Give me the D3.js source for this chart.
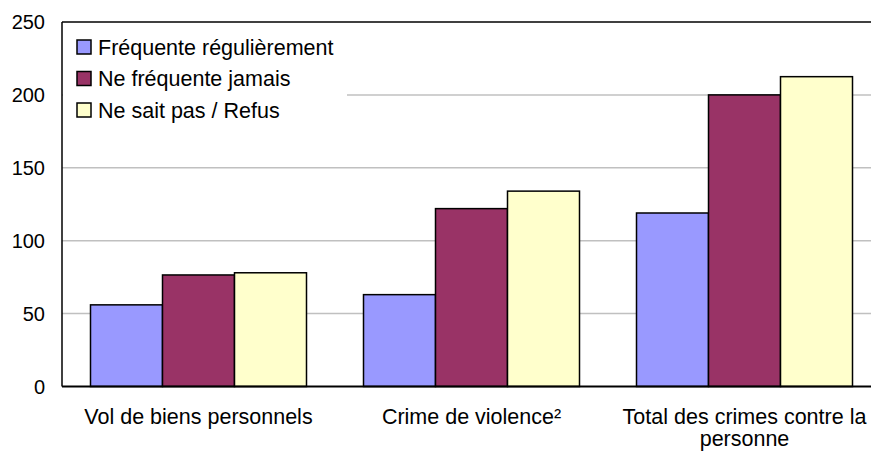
<!DOCTYPE html>
<html>
<head>
<meta charset="utf-8">
<script src="https://cdn.jsdelivr.net/npm/d3@7"></script>
<style>
  body { margin: 0; background: #fff; }
  svg { display: block; font-family: "Liberation Sans", Arial, Helvetica, sans-serif; }
</style>
</head>
<body>
<div id="chart"></div>
<script>
// data
const categories = ["Vol de biens personnels", "Crime de violence²", "Total des crimes contre la personne"];
const seriesNames = ["Fréquente régulièrement", "Ne fréquente jamais", "Ne sait pas / Refus"];
const frequente = [56, 63, 119];
const jamais = [76.5, 122, 200];
const neSaitPas = [78, 134, 212.5];
const yTicks = [0, 50, 100, 150, 200, 250];
const seriesValues = [frequente, jamais, neSaitPas];
const colors = ["#9999FF", "#993366", "#FFFFCC"];

// layout
const width = 871, height = 453;
const mLeft = 62, mRight = 881, mTop = 22, mBottom = 386.5;

const svg = d3.select("#chart").append("svg")
  .attr("width", width)
  .attr("height", height);

const x = d3.scaleBand()
  .domain(categories)
  .range([mLeft, mRight])
  .paddingInner(57 / 273)
  .paddingOuter(28.5 / 273);

const xs = d3.scaleBand()
  .domain(d3.range(seriesNames.length))
  .range([0, x.bandwidth()]);

const y = d3.scaleLinear().domain([0, 250]).range([mBottom, mTop]);

// gridlines
svg.append("g")
  .selectAll("line")
  .data(yTicks.filter(t => t > 0 && t < 250))
  .join("line")
  .attr("x1", mLeft).attr("x2", width)
  .attr("y1", d => y(d)).attr("y2", d => y(d))
  .attr("stroke", "#c0c0c0")
  .attr("stroke-width", 1.5);

// y tick labels
svg.append("g")
  .selectAll("text")
  .data(yTicks)
  .join("text")
  .attr("x", 45)
  .attr("y", d => y(d))
  .attr("dy", "0.36em")
  .attr("text-anchor", "end")
  .attr("font-size", 20)
  .attr("fill", "#000")
  .text(d => d);

// legend background (hides gridlines)
svg.append("rect")
  .attr("x", mLeft + 1).attr("y", mTop + 1)
  .attr("width", 284).attr("height", 104)
  .attr("fill", "#fff");

// bars
const groups = svg.append("g")
  .selectAll("g")
  .data(categories)
  .join("g")
  .attr("transform", d => `translate(${x(d)},0)`);

groups.selectAll("rect")
  .data((d, i) => seriesValues.map((s, k) => ({ k, v: s[i] })))
  .join("rect")
  .attr("x", d => xs(d.k))
  .attr("y", d => y(d.v))
  .attr("width", xs.bandwidth())
  .attr("height", d => y(0) - y(d.v))
  .attr("fill", d => colors[d.k])
  .attr("stroke", "#000")
  .attr("stroke-width", 1.5);

// axes frame
svg.append("line")
  .attr("x1", mLeft).attr("x2", mLeft)
  .attr("y1", mTop).attr("y2", mBottom)
  .attr("stroke", "#000").attr("stroke-width", 1.5);
svg.append("line")
  .attr("x1", mLeft).attr("x2", width)
  .attr("y1", mTop).attr("y2", mTop)
  .attr("stroke", "#000").attr("stroke-width", 1.5);
svg.append("line")
  .attr("x1", mLeft).attr("x2", width)
  .attr("y1", mBottom).attr("y2", mBottom)
  .attr("stroke", "#000").attr("stroke-width", 2);

// category labels (wrapped)
const catLines = [["Vol de biens personnels"], ["Crime de violence²"], ["Total des crimes contre la", "personne"]];
svg.append("g")
  .selectAll("text")
  .data(categories)
  .join("text")
  .attr("x", d => x(d) + x.bandwidth() / 2)
  .attr("y", 424)
  .attr("text-anchor", "middle")
  .attr("font-size", 21.5)
  .attr("fill", "#000")
  .each(function (d, i) {
    d3.select(this).selectAll("tspan")
      .data(catLines[i])
      .join("tspan")
      .attr("x", x(d) + x.bandwidth() / 2)
      .attr("dy", (t, j) => j === 0 ? 0 : 22)
      .text(t => t);
  });

// legend
const legend = svg.append("g")
  .selectAll("g")
  .data(seriesNames)
  .join("g")
  .attr("transform", (d, i) => `translate(77, ${40 + i * 31.5})`);

legend.append("rect")
  .attr("width", 14).attr("height", 14)
  .attr("fill", (d, i) => colors[i])
  .attr("stroke", "#000")
  .attr("stroke-width", 1.5);

legend.append("text")
  .attr("x", 21).attr("y", 14.5)
  .attr("font-size", 21.5)
  .attr("fill", "#000")
  .text(d => d);
</script>
</body>
</html>
